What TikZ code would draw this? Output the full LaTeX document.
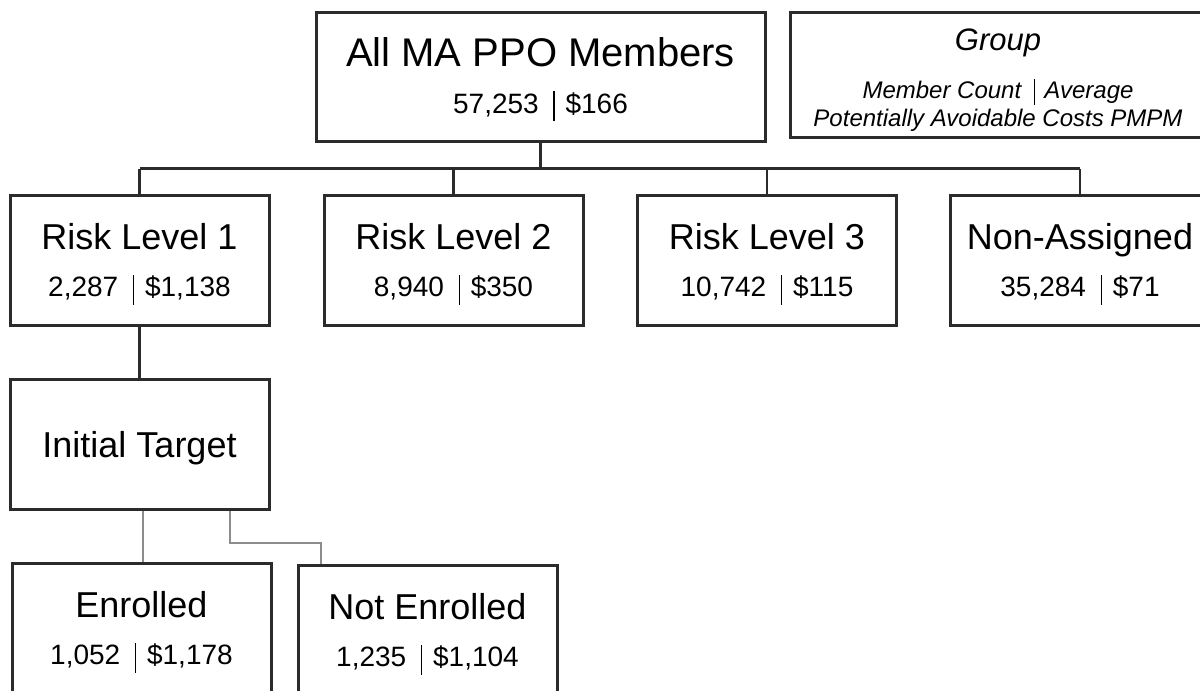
\documentclass[tikz,border=0pt]{standalone}
\usepackage{fontspec}
\setmainfont{Liberation Sans}
\usetikzlibrary{positioning,calc}
\definecolor{boxline}{HTML}{2B2B2B}
\definecolor{subline}{HTML}{8C8C8C}
\newcommand{\sepbar}{\hspace{0.52em}\rule[-0.29em]{0.8pt}{1.07em}\hspace{0.38em}}
\newcommand{\hd}[1]{{\fontsize{18}{24}\selectfont\rule{0pt}{17pt}#1}}

\begin{document}
\begin{tikzpicture}[x=0.5pt,y=-0.5pt,
  every node/.style={font=\fontsize{14}{23.5}\selectfont},
  grp/.style={draw=boxline,line width=1.5pt,minimum width=129.5pt,minimum height=65pt,align=center,inner sep=0pt},
  link/.style={draw=boxline,line width=1.2pt},
  sublink/.style={draw=subline,line width=1pt}]
\useasboundingbox (0,0) rectangle (1200,691);
% top box and legend
\node[grp,minimum width=224.5pt,minimum height=64.5pt] (all) at (540.5,76.5)
  {{\fontsize{20}{24}\selectfont\rule{0pt}{17.3pt}All MA PPO Members}\\57,253\sepbar\$166};
\node[grp,minimum width=208pt,minimum height=62.5pt,font=\fontsize{12}{14}\selectfont\itshape] (legend) at (998,74.5)
  {{\fontsize{15.5}{18}\selectfont\rule{0pt}{16.1pt}Group}\\[10pt]Member Count\sepbar Average\\Potentially Avoidable Costs PMPM};
% risk levels
\foreach \n/\x/\lab/\num in {rl1/139.5/{Risk Level 1}/{2,287\sepbar\$1,138},
    rl2/453.5/{Risk Level 2}/{8,940\sepbar\$350},
    rl3/767/{Risk Level 3}/{10,742\sepbar\$115},
    na/1080/{Non-Assigned}/{35,284\sepbar\$71}}{
  \node[grp] (\n) at (\x,260) {\hd{\lab}\\\num};
}
% target and enrolment split
\node[grp] (it) at (139.5,444.5) {\hd{Initial Target}};
\node[grp] (en) at (141.5,628) {\hd{Enrolled}\\1,052\sepbar\$1,178};
\node[grp] (ne) at (427.5,630) {\hd{Not Enrolled}\\1,235\sepbar\$1,104};
% tree lines
\coordinate (bus) at ($(all.south)+(0,26)$);
\draw[link] (all.south) -- (bus);
\draw[link] (rl1.north |- bus) -- (na.north |- bus);
\foreach \n in {rl1,rl2,rl3,na}{\draw[link] (\n.north |- bus) -- (\n.north);}
\draw[link] (rl1.south) -- (it.north);
\coordinate (split) at ($(it.south east)+(-41,0)$);
\coordinate (drop) at ($(ne.north west)+(24,0)$);
\draw[sublink] ($(it.south)+(3.5,0)$) -- ($(en.north)+(1.5,0)$);
\draw[sublink] (split) -- ++(0,32) -| (drop);
\end{tikzpicture}
\end{document}
